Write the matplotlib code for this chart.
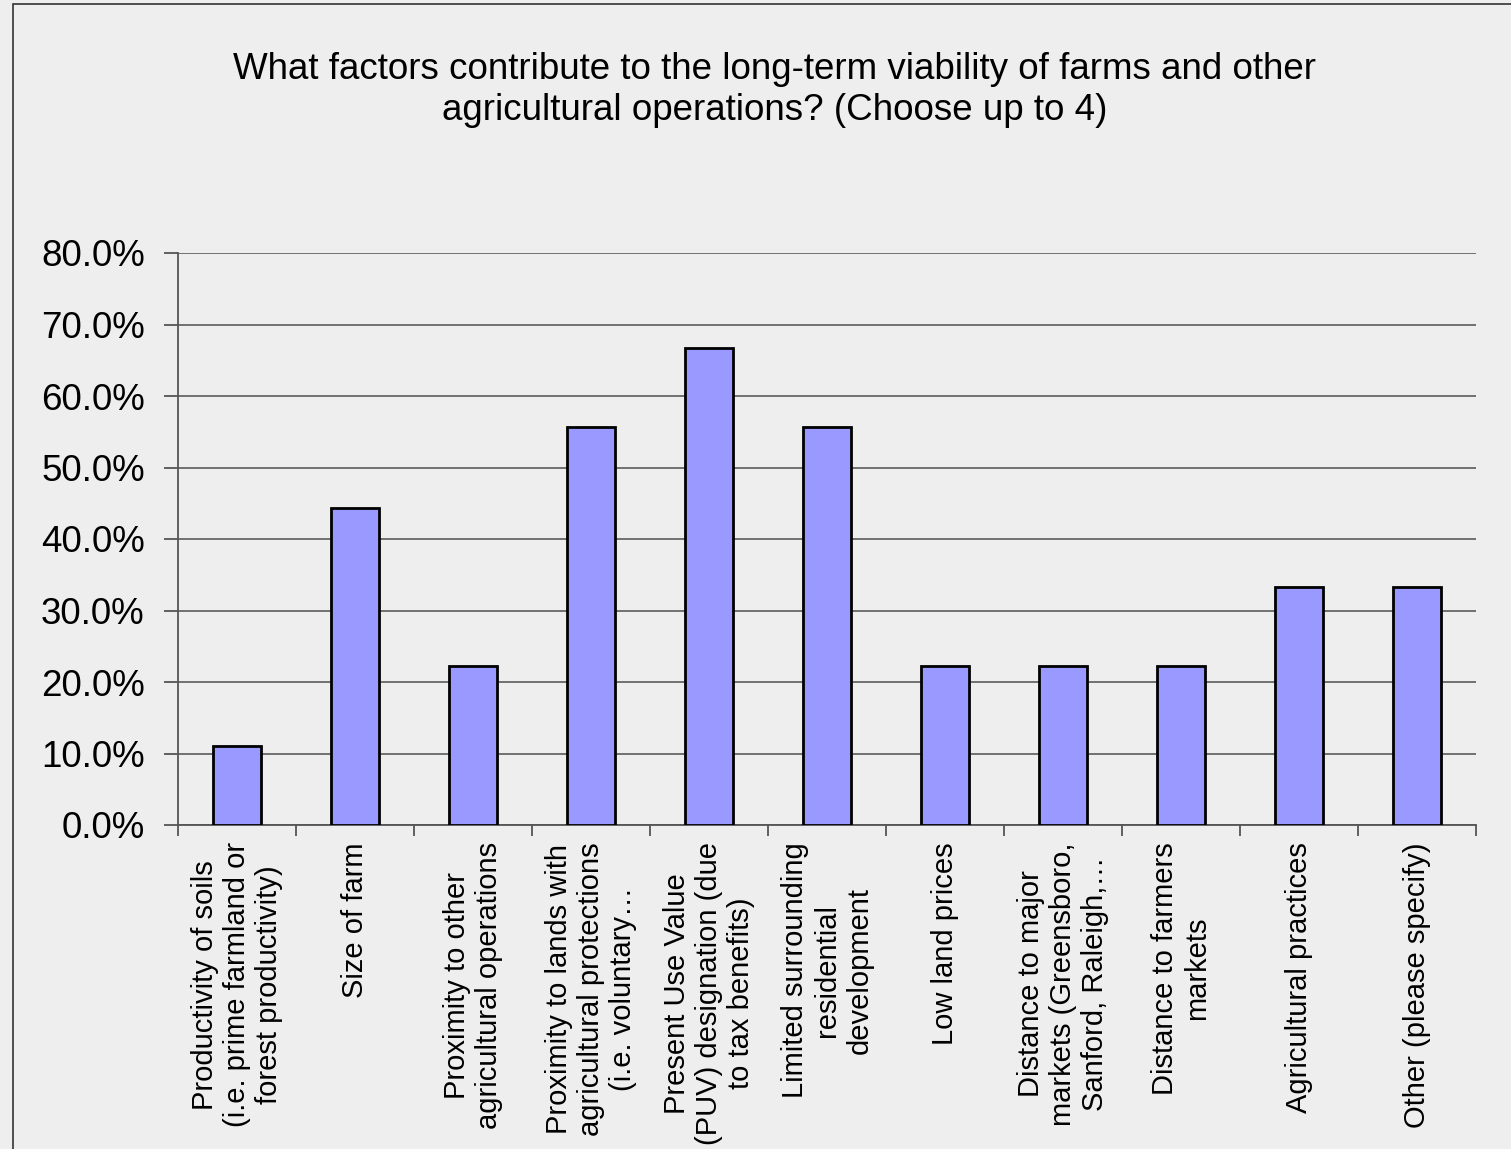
import matplotlib.pyplot as plt
import matplotlib.patches as patches
from matplotlib.ticker import FuncFormatter, FixedLocator
import numpy as np

# Survey responses (share of respondents)
categories = [
    "Productivity of soils\n(i.e. prime farmland or\nforest productivity)",
    "Size of farm",
    "Proximity to other\nagricultural operations",
    "Proximity to lands with\nagricultural protections\n(i.e. voluntary\u2026",
    "Present Use Value\n(PUV) designation (due\nto tax benefits)",
    "Limited surrounding\nresidential\ndevelopment",
    "Low land prices",
    "Distance to major\nmarkets (Greensboro,\nSanford, Raleigh,\u2026",
    "Distance to farmers\nmarkets",
    "Agricultural practices",
    "Other (please specify)",
]
shares = [11.1, 44.4, 22.2, 55.6, 66.7, 55.6, 22.2, 22.2, 22.2, 33.3, 33.3]
y_ticks = [0, 10, 20, 30, 40, 50, 60, 70, 80]

title = ("What factors contribute to the long-term viability of farms and other\n"
         "agricultural operations? (Choose up to 4)")

plt.rcParams['font.family'] = ['Liberation Sans', 'DejaVu Sans']

bg = '#EEEEEE'
fig = plt.figure(figsize=(15.11, 11.49), dpi=100, facecolor=bg)
ax = fig.add_axes([178 / 1511, 1 - 825 / 1149, (1476 - 178) / 1511, (825 - 253) / 1149])
ax.set_facecolor(bg)

# outer chart frame
fig.patches.append(patches.Rectangle((13 / 1511, -0.01), 1.02, 1 - 4 / 1149 + 0.01,
                                     transform=fig.transFigure, fill=False,
                                     edgecolor='#333333', linewidth=1.2))

x = np.arange(len(categories))
ax.bar(x, shares, width=0.41, color='#9999FF', edgecolor='black', linewidth=2.0, zorder=3)

ax.set_xlim(-0.5, len(categories) - 0.5)
ax.set_ylim(0, 80)
ax.set_yticks(y_ticks)
ax.yaxis.set_major_formatter(FuncFormatter(lambda v, p: f"{v:.1f}%"))
ax.grid(axis='y', color='#707070', linewidth=1.4, zorder=0)
ax.set_axisbelow(True)

for s in ['top', 'right']:
    ax.spines[s].set_visible(False)
for s in ['left', 'bottom']:
    ax.spines[s].set_color('#555555')
    ax.spines[s].set_linewidth(1.3)

ax.tick_params(axis='y', length=10, width=1.3, color='#555555', labelsize=26.5, pad=14)

# x ticks sit on category boundaries, labels centred under bars
ax.xaxis.set_major_locator(FixedLocator(np.arange(len(categories) + 1) - 0.5))
ax.set_xticklabels([])
ax.tick_params(axis='x', length=8, width=1.3, color='#555555')
for i, lab in enumerate(categories):
    ax.text(i, -2.4, lab, rotation=90, ha='center', va='top', multialignment='center',
            fontsize=21, transform=ax.transData, linespacing=1.2)

fig.text(775 / 1511, 1 - 90 / 1149, title, ha='center', va='center', fontsize=26.5,
         linespacing=1.2)

fig.savefig('out.png', dpi=100, facecolor=bg)
